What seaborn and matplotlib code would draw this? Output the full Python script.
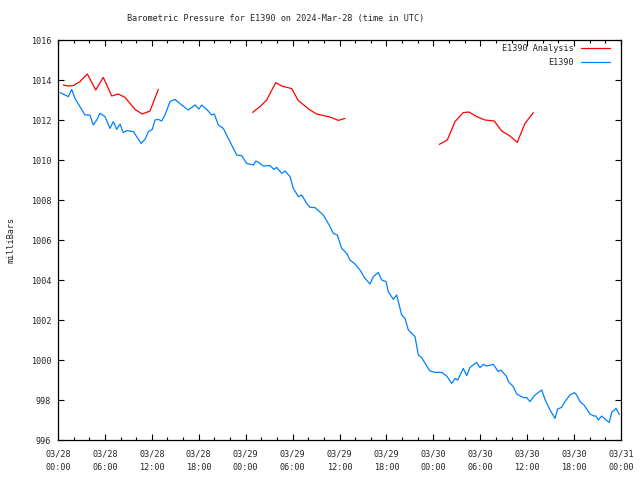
import numpy as np
import pandas as pd
import matplotlib
matplotlib.use("Agg")
import matplotlib.pyplot as plt
from matplotlib.ticker import MultipleLocator
from matplotlib.lines import Line2D
import seaborn as sns

# observed pressure, hours since 2024-03-28 00:00 UTC
obs_hours = [0.26, 1.32, 1.75, 2.17, 3.45, 4.09, 4.51, 4.95, 5.37, 6.01, 6.65, 7.07,
             7.51, 7.93, 8.35, 8.79, 9.63, 10.06, 10.61, 11.13, 11.55, 12.06, 12.40,
             12.83, 13.26, 13.68, 14.32, 14.96, 15.82, 16.66, 17.52, 18.03, 18.38,
             19.02, 19.66, 19.99, 20.50, 21.14, 21.78, 22.85, 23.49, 24.13, 24.98,
             25.32, 25.83, 26.25, 27.11, 27.62, 27.97, 28.61, 29.03, 29.67, 30.09,
             30.73, 31.17, 31.80, 32.23, 32.87, 33.93, 34.79, 35.21, 35.72, 36.28,
             36.92, 37.34, 37.98, 38.62, 39.26, 39.90, 40.32, 40.96, 41.40, 41.95,
             42.24, 42.88, 43.31, 43.95, 44.38, 44.80, 45.66, 46.08, 46.51, 47.15,
             47.57, 48.21, 49.07, 49.71, 50.35, 50.77, 51.12, 51.83, 52.27, 52.69,
             53.54, 53.97, 54.39, 54.82, 55.67, 56.31, 56.62, 57.38, 57.59, 58.23,
             58.66, 59.50, 59.94, 60.36, 61.00, 61.86, 62.28, 62.92, 63.56, 63.90,
             64.41, 64.83, 65.47, 66.03, 66.33, 66.76, 67.27, 68.03, 68.55, 68.80,
             69.10, 69.53, 70.17, 70.50, 70.81, 71.36, 71.79]
obs_mb = [1013.37, 1013.17, 1013.53, 1013.08, 1012.25, 1012.25, 1011.75, 1012.0,
          1012.33, 1012.17, 1011.58, 1011.92, 1011.53, 1011.8, 1011.37, 1011.47,
          1011.42, 1011.17, 1010.83, 1011.03, 1011.42, 1011.53, 1012.0, 1012.03,
          1011.95, 1012.25, 1012.92, 1013.03, 1012.75, 1012.5, 1012.75, 1012.55,
          1012.75, 1012.53, 1012.25, 1012.3, 1011.75, 1011.58, 1011.08, 1010.25,
          1010.22, 1009.83, 1009.75, 1009.95, 1009.83, 1009.7, 1009.72, 1009.53,
          1009.63, 1009.33, 1009.45, 1009.17, 1008.58, 1008.17, 1008.25, 1007.83,
          1007.63, 1007.62, 1007.25, 1006.67, 1006.33, 1006.25, 1005.58, 1005.33,
          1005.0, 1004.8, 1004.5, 1004.08, 1003.8, 1004.17, 1004.38, 1004.0,
          1003.92, 1003.42, 1003.03, 1003.25, 1002.25, 1002.08, 1001.5, 1001.17,
          1000.25, 1000.12, 999.7, 999.45, 999.38, 999.38, 999.2, 998.83, 999.08,
          999.0, 999.58, 999.22, 999.63, 999.88, 999.62, 999.78, 999.7, 999.78,
          999.42, 999.5, 999.17, 998.92, 998.67, 998.3, 998.12, 998.12, 997.92,
          998.25, 998.5, 998.03, 997.5, 997.08, 997.55, 997.63, 997.92, 998.25,
          998.37, 998.25, 997.92, 997.75, 997.3, 997.2, 997.2, 997.0, 997.2,
          996.97, 996.88, 997.38, 997.58, 997.28]

# analysis, three separate runs
ana1_hours = [0.68, 1.32, 1.96, 2.81, 3.75, 4.82, 5.79, 6.87, 7.71, 8.57, 9.85, 10.78, 11.77, 12.83]
ana1_mb = [1013.75, 1013.7, 1013.72, 1013.92, 1014.3, 1013.5, 1014.13, 1013.2, 1013.3,
           1013.13, 1012.53, 1012.3, 1012.45, 1013.53]
ana2_hours = [24.9, 25.83, 26.69, 27.84, 28.61, 29.88, 30.73, 32.23, 33.08, 34.79, 35.85, 36.70]
ana2_mb = [1012.38, 1012.67, 1013.0, 1013.87, 1013.7, 1013.57, 1012.97, 1012.5, 1012.3,
           1012.15, 1011.98, 1012.08]
ana3_hours = [48.76, 49.79, 50.77, 51.83, 52.56, 53.54, 54.6, 55.79, 56.74, 57.8, 58.73, 59.72, 60.79]
ana3_mb = [1010.78, 1011.0, 1011.92, 1012.37, 1012.4, 1012.17, 1012.0, 1011.95, 1011.45,
           1011.2, 1010.88, 1011.83, 1012.37]

tick_hours = list(range(0, 73, 6))
tick_labels = ["03/28\n00:00", "03/28\n06:00", "03/28\n12:00", "03/28\n18:00",
               "03/29\n00:00", "03/29\n06:00", "03/29\n12:00", "03/29\n18:00",
               "03/30\n00:00", "03/30\n06:00", "03/30\n12:00", "03/30\n18:00",
               "03/31\n00:00"]

red = "#ff0000"
blue = "#0080ff"
fs = 6.1

frames = [pd.DataFrame({"hour": obs_hours, "mb": obs_mb, "series": "E1390", "seg": 0})]
for i, (h, v) in enumerate([(ana1_hours, ana1_mb), (ana2_hours, ana2_mb), (ana3_hours, ana3_mb)]):
    frames.append(pd.DataFrame({"hour": h, "mb": v, "series": "E1390 Analysis", "seg": i + 1}))
df = pd.concat(frames, ignore_index=True)

sns.set_style("ticks")
plt.rcParams["font.family"] = ["DejaVu Sans Mono"]

fig = plt.figure(figsize=(6.4, 4.8), dpi=100)
ax = fig.add_axes([58 / 640, 40 / 480, 563 / 640, 400 / 480])

sns.lineplot(data=df, x="hour", y="mb", hue="series", units="seg", estimator=None,
             palette={"E1390": blue, "E1390 Analysis": red}, sort=False,
             linewidth=0.9, legend=False, ax=ax)

ax.set_xlim(0, 72)
ax.set_ylim(996, 1016)
ax.set_xticks(tick_hours)
ax.set_xticklabels(tick_labels, linespacing=1.6)
ax.xaxis.set_minor_locator(MultipleLocator(2))
ax.yaxis.set_major_locator(MultipleLocator(2))
ax.tick_params(which="both", direction="in", top=True, right=True, labelsize=fs,
               color="black", width=0.8)
ax.tick_params(axis="x", pad=7)
ax.tick_params(axis="y", pad=5)
ax.tick_params(which="major", length=4)
ax.tick_params(which="minor", length=2.2)
for s in ax.spines.values():
    s.set_color("black")
    s.set_linewidth(0.9)

ax.set_xlabel("")
ax.set_ylabel("milliBars", fontsize=fs, labelpad=11)
fig.text(276 / 640, 1 - 19 / 480, "Barometric Pressure for E1390 on 2024-Mar-28 (time in UTC)",
         fontsize=fs, ha="center", va="center")

handles = [Line2D([], [], color=red, lw=0.9), Line2D([], [], color=blue, lw=0.9)]
ax.legend(handles, ["E1390 Analysis", "E1390"], loc="upper right", frameon=False,
          markerfirst=False, fontsize=fs, handlelength=3.4, handletextpad=0.9,
          labelspacing=0.55, borderaxespad=0, borderpad=0,
          bbox_to_anchor=(0.9805, 0.99))

fig.savefig("out.png", dpi=100)
